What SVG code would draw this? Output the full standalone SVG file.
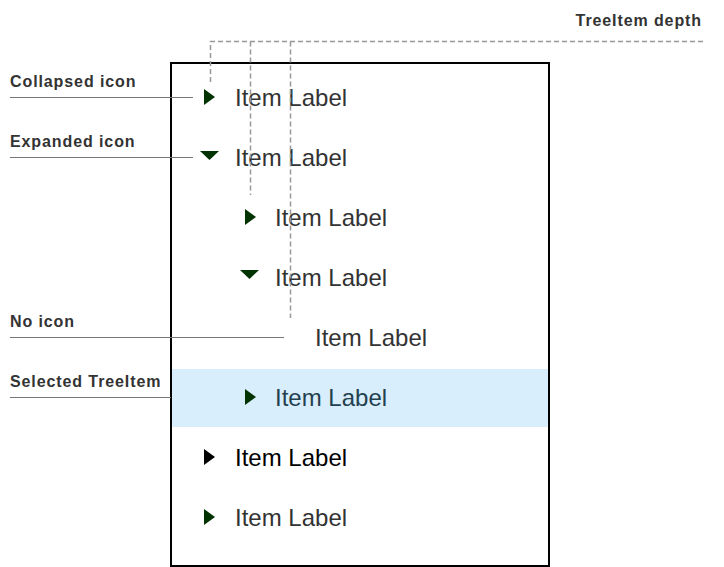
<svg xmlns="http://www.w3.org/2000/svg" width="724" height="567" viewBox="0 0 724 567">
<style>
.lbl{font-family:"Liberation Sans",Arial,sans-serif;font-size:16px;font-weight:bold;fill:#333;letter-spacing:0.9px}
.item{font-family:"Liberation Sans",Arial,sans-serif;font-size:24px;fill:#333}
.call{stroke:#777;stroke-width:1;fill:none}
.dash{stroke:#999;stroke-width:1.5;stroke-dasharray:5 3;fill:none}
.g{fill:#003300}
</style>
<rect x="0" y="0" width="724" height="567" fill="#fff"/>
<g id="tree">
<rect x="171" y="63" width="378" height="503" fill="#fff" stroke="#000" stroke-width="2"/>
<rect x="172" y="369" width="376" height="58" fill="#d8eefc"/>
</g>
<g id="item1"><polygon class="g" points="204,89 215,97 204,105"/><text class="item" x="235" y="106">Item Label</text></g>
<g id="item2"><polygon class="g" points="200,151 219,151 209.5,160"/><text class="item" x="235" y="166">Item Label</text></g>
<g id="item3"><polygon class="g" points="245,209 256,217 245,225"/><text class="item" x="275" y="226">Item Label</text></g>
<g id="item4"><polygon class="g" points="240,270 259,270 249.5,279"/><text class="item" x="275" y="286">Item Label</text></g>
<g id="item5"><text class="item" x="315" y="346">Item Label</text></g>
<g id="item6"><polygon class="g" points="245,389 256,397 245,405"/><text class="item" x="275" y="406" style="fill:#24404f">Item Label</text></g>
<g id="item7"><polygon fill="#000" points="204,449 215,457 204,465"/><text class="item" x="235" y="466" style="fill:#000">Item Label</text></g>
<g id="item8"><polygon class="g" points="204,509 215,517 204,525"/><text class="item" x="235" y="526">Item Label</text></g>
<g id="labels">
<text class="lbl" x="10" y="87">Collapsed icon</text>
<text class="lbl" x="10" y="147">Expanded icon</text>
<text class="lbl" x="10" y="327">No icon</text>
<text class="lbl" x="10" y="387">Selected TreeItem</text>
<text class="lbl" x="702" y="26" text-anchor="end">TreeItem depth</text>
</g>
<g id="connectors">
<line class="call" x1="10" y1="97.5" x2="193" y2="97.5"/>
<line class="call" x1="10" y1="157.5" x2="193" y2="157.5"/>
<line class="call" x1="10" y1="337.5" x2="284" y2="337.5"/>
<line class="call" x1="10" y1="397.5" x2="171" y2="397.5"/>
<path class="dash" d="M703,41.5 H210.5 V85 M250.5,41.5 V195 M290.5,41.5 V318"/>
</g>
</svg>
